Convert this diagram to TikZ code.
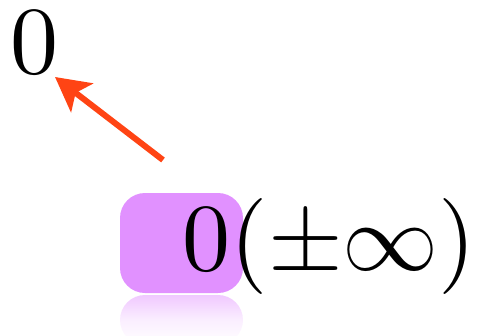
\documentclass[tikz,border=0pt]{standalone}
\usetikzlibrary{arrows.meta}
\definecolor{boxpurple}{RGB}{225,145,255}
\definecolor{arrowred}{RGB}{255,68,20}
\begin{document}
\begin{tikzpicture}[x=1pt,y=1pt,
  bigtext/.style={inner sep=0pt, anchor=base west, font=\fontsize{10}{12}\selectfont, scale=9.6},
  pointer/.style={draw=arrowred, line width=6pt, -{Stealth[length=34pt,width=36pt,inset=8pt]}}]
\useasboundingbox (0,0) rectangle (477,-335);
\begin{scope}
\clip (0,0) rectangle (477,-335);
\shade[top color=boxpurple!50, bottom color=white, middle color=boxpurple!15, rounded corners=25pt]
  (120,-295) rectangle (243,-345);
\end{scope}
\fill[boxpurple, rounded corners=25pt] (120,-193) rectangle (243,-293);
\node[bigtext] (top) at (9,-73) {$0$};
\node[bigtext] (expr) at (181,-270) {$0(\pm\infty)$};
\coordinate (s) at (163,-160);
\coordinate (t) at (55,-77);
\draw[pointer] (s) -- (t);
\end{tikzpicture}
\end{document}
